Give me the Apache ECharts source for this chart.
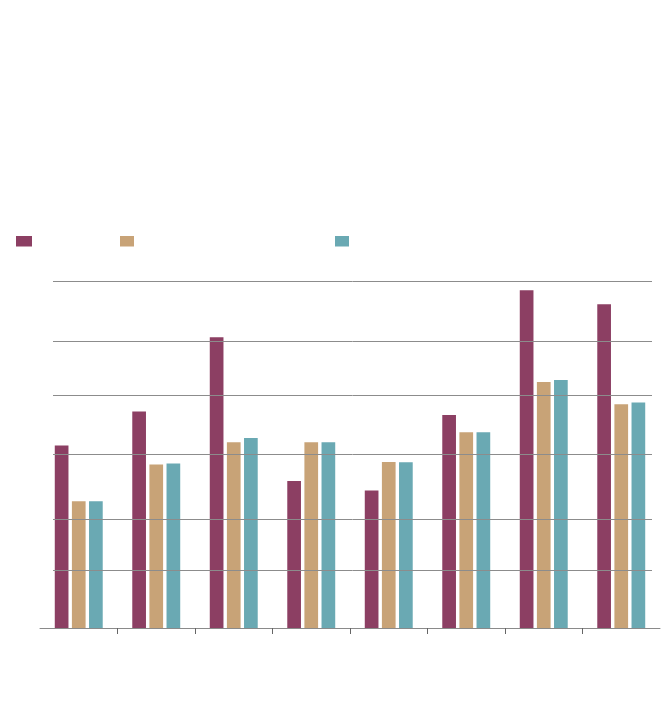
<!DOCTYPE html>
<html>
<head>
<meta charset="utf-8">
<script src="https://cdn.jsdelivr.net/npm/echarts@6/dist/echarts.min.js"></script>
<style>html,body{margin:0;padding:0;background:#fff;}#c{width:670px;height:722px;}</style>
</head>
<body>
<div id="c"></div>
<script>
var categories = ['1', '2', '3', '4', '5', '6', '7', '8'];
var seriesNames = ['Series 1', 'Series 2', 'Series 3'];
var series1 = [52.7, 62.5, 83.9, 42.4, 39.7, 61.5, 97.5, 93.4];
var series2 = [36.6, 47.2, 53.6, 53.6, 47.9, 56.5, 71.0, 64.6];
var series3 = [36.6, 47.5, 54.8, 53.6, 47.8, 56.5, 71.6, 65.1];
var gridValues = [16.7, 31.5, 50.2, 67.2, 82.9, 100];
var colors = ['#8c3f63', '#c8a377', '#6aa9b3'];

var chart = echarts.init(document.getElementById('c'), null, {renderer: 'canvas'});

function legendFor(i, left, w) {
  return {
    data: [seriesNames[i]],
    left: left, top: 236,
    itemWidth: w, itemHeight: 10.5,
    icon: 'rect',
    formatter: function () { return ''; },
    selectedMode: false,
    padding: 0
  };
}

var gridLineData = gridValues.map(function (v) {
  return [{x: 53, yAxis: v}, {x: 652, yAxis: v}];
});

function barSeries(i, data) {
  return {name: seriesNames[i], type: 'bar', data: data, barWidth: 13.7, barGap: '25%', z: 3,
    xAxisIndex: 0, yAxisIndex: 0, itemStyle: {color: colors[i]}};
}

// inner category boundaries only: second grid spans boundary 1 .. boundary 7
var bandW = 620 / categories.length;

var option = {
  animation: false,
  backgroundColor: '#ffffff',
  legend: [legendFor(0, 16, 16), legendFor(1, 120, 14), legendFor(2, 335, 14)],
  grid: [
    {left: 40, right: 10, top: 281.5, bottom: 94, containLabel: false},
    {left: 40 + bandW, right: 10 + bandW, top: 281.5, bottom: 94, containLabel: false}
  ],
  xAxis: [
    {
      type: 'category', gridIndex: 0,
      data: categories,
      axisLine: {show: true, lineStyle: {color: '#8a8a8a', width: 1}},
      axisTick: {show: false},
      axisLabel: {show: false},
      splitLine: {show: false}
    },
    {
      type: 'value', gridIndex: 1, min: 1, max: categories.length - 1, interval: 1,
      axisLine: {show: false},
      axisTick: {show: true, length: 6, lineStyle: {color: '#666', width: 1}},
      axisLabel: {show: false},
      splitLine: {show: false}
    }
  ],
  yAxis: [
    {type: 'value', gridIndex: 0, min: 0, max: 100, show: false, splitLine: {show: false}},
    {type: 'value', gridIndex: 1, min: 0, max: 100, show: false, splitLine: {show: false}}
  ],
  series: [
    {
      name: 'grid', type: 'line', data: [], z: 1, silent: true,
      xAxisIndex: 0, yAxisIndex: 0,
      itemStyle: {color: '#8c8c8c'},
      markLine: {
        silent: true, symbol: 'none', label: {show: false},
        lineStyle: {color: '#8c8c8c', width: 1, type: 'solid'},
        emphasis: {disabled: true},
        data: gridLineData
      }
    },
    barSeries(0, series1),
    barSeries(1, series2),
    barSeries(2, series3)
  ]
};
chart.setOption(option);
</script>
</body>
</html>
